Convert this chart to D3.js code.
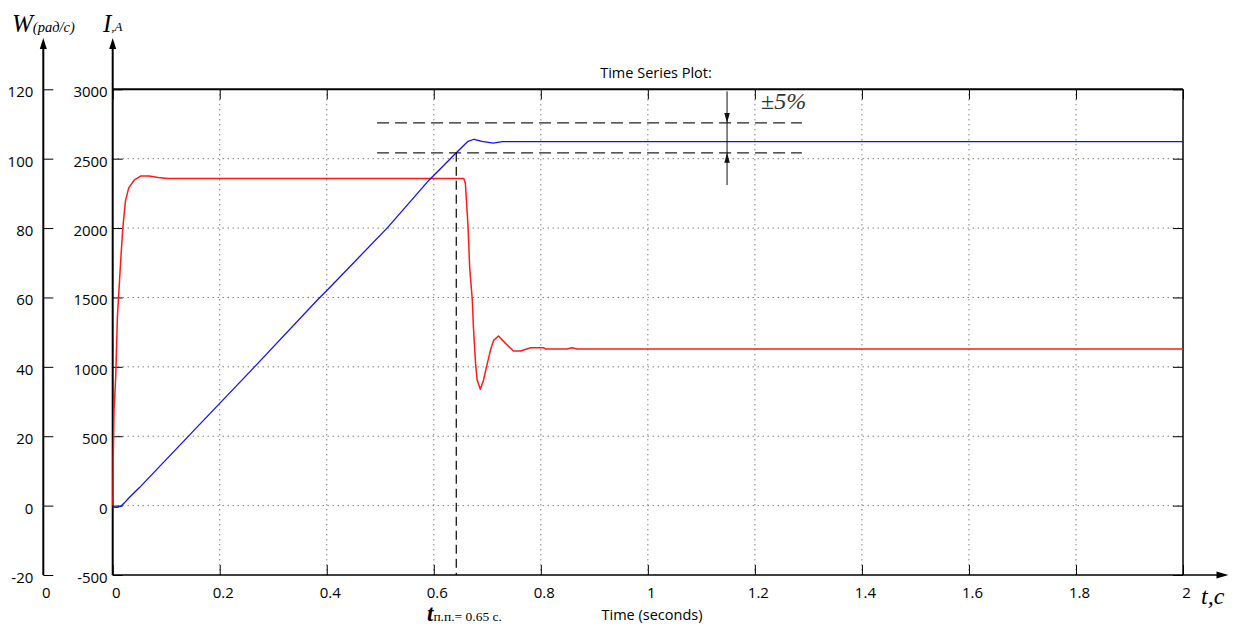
<!DOCTYPE html>
<html>
<head>
<meta charset="utf-8">
<script src="https://cdn.jsdelivr.net/npm/d3@7/dist/d3.min.js"></script>
<style>
  html, body { margin: 0; padding: 0; background: #fff; }
  svg { display: block; }
  .sans { font-family: "Open Sans", "Liberation Sans", sans-serif; }
  .serif { font-family: "Liberation Serif", "DejaVu Serif", serif; }
</style>
</head>
<body>
<svg id="chart" width="1233" height="628"></svg>
<script>
// ---------------- data ----------------
const chartTitle = "Time Series Plot:";
const xAxisTitle = "Time (seconds)";
const timeTicks = [0, 0.2, 0.4, 0.6, 0.8, 1, 1.2, 1.4, 1.6, 1.8, 2];
const currentTicks = [-500, 0, 500, 1000, 1500, 2000, 2500, 3000];
const speedTicks = [-20, 0, 20, 40, 60, 80, 100, 120];
const speedAxisOrigin = "0";

// speed W (rad/s) — blue
const speedT = [0, 0.008, 0.015, 0.022, 0.03, 0.05, 0.1643, 0.265, 0.382, 0.407, 0.514, 0.591, 0.642, 0.663, 0.675, 0.69, 0.711, 0.728, 2.0];
const speedV = [-0.4, -0.5, -0.2, 0.8, 2.2, 5.2, 23.7, 40.0, 59.2, 63.1, 80.2, 93.8, 101.7, 104.9, 105.6, 105.0, 104.5, 104.9, 104.9];

// current I (A) — red
const currentT = [0, 0.0005, 0.001, 0.0025, 0.0056, 0.0088, 0.015, 0.019, 0.024, 0.030, 0.040, 0.052, 0.068, 0.085, 0.102, 0.656, 0.659, 0.664, 0.667, 0.672, 0.674, 0.678, 0.681, 0.687, 0.693, 0.700, 0.706, 0.712, 0.721, 0.734, 0.749, 0.762, 0.781, 0.805, 0.809, 0.849, 0.858, 0.868, 2.0];
const currentV = [0, 0, 330, 690, 925, 1360, 1770, 2005, 2200, 2290, 2345, 2375, 2375, 2365, 2357, 2357, 2325, 2010, 1720, 1480, 1290, 1027, 905, 838, 905, 1025, 1121, 1193, 1222, 1169, 1114, 1114, 1138, 1138, 1128, 1128, 1138, 1128, 1128];

// annotations (in current-axis units / seconds)
const bandLevels = [2758, 2542];        // ±5% dashed lines
const bandStart = 0.494, bandEnd = 1.288;
const settlingTime = 0.642;
const arrowTime = 1.148;
const arrowSpan = [2985, 2310];
const toleranceLabel = "±5%";

// ---------------- layout ----------------
const svg = d3.select("#chart");
const pLeft = 112.7, pRight = 1183, pTop = 89.3, pBottom = 575;
const wAxisX = 43.3;

const x = d3.scaleLinear().domain([0, 2]).range([pLeft, pRight]);
const yI = d3.scaleLinear().domain([-500, 3000]).range([pBottom, pTop]);
const yW = d3.scaleLinear().domain([-20, 120]).range([pBottom, pTop]);
const plain = d => String(d);

svg.append("rect").attr("width", 1233).attr("height", 628).attr("fill", "#fff");

// grid
const grid = svg.append("g").attr("stroke", "#444").attr("stroke-width", 1).attr("stroke-dasharray", "1,4");
grid.selectAll("line.v").data(timeTicks.slice(1, -1)).join("line").attr("class", "v")
  .attr("x1", d => x(d)).attr("x2", d => x(d)).attr("y1", pTop).attr("y2", pBottom);
grid.selectAll("line.h").data(currentTicks.slice(1, -1)).join("line").attr("class", "h")
  .attr("x1", pLeft).attr("x2", pRight).attr("y1", d => yI(d)).attr("y2", d => yI(d));

// axes
function styleAxis(g) {
  g.select(".domain").remove();
  g.selectAll(".tick line").attr("stroke", "#000").attr("stroke-width", 1);
  g.selectAll(".tick text").attr("fill", "#000");
}
const axFont = g => g.attr("font-family", "'Open Sans', 'Liberation Sans', sans-serif").attr("font-size", 15);

svg.append("g").attr("transform", `translate(0,${pBottom})`)
  .call(d3.axisBottom(x).tickValues(timeTicks).tickFormat(plain).tickSize(-10).tickPadding(12))
  .call(styleAxis).call(axFont)
  .selectAll(".tick text").attr("dx", 3);

svg.append("g").attr("transform", `translate(0,${pTop})`)
  .call(d3.axisTop(x).tickValues(timeTicks).tickFormat("").tickSize(-10))
  .call(styleAxis);

svg.append("g").attr("transform", `translate(${pLeft},0)`)
  .call(d3.axisLeft(yI).tickValues(currentTicks).tickFormat(plain).tickSize(-10).tickPadding(5))
  .call(styleAxis).call(axFont)
  .selectAll(".tick text").attr("dy", "0.5em");

svg.append("g").attr("transform", `translate(${pRight},0)`)
  .call(d3.axisRight(yI).tickValues(currentTicks).tickFormat("").tickSize(-10))
  .call(styleAxis);

svg.append("g").attr("transform", `translate(${wAxisX},0)`)
  .call(d3.axisLeft(yW).tickValues(speedTicks).tickFormat(plain).tickSize(-10).tickPadding(10))
  .call(styleAxis).call(axFont)
  .selectAll(".tick text").attr("dy", "0.5em");

// frame lines
svg.append("line").attr("x1", pLeft).attr("x2", pRight).attr("y1", pTop).attr("y2", pTop)
  .attr("stroke", "#000").attr("stroke-width", 2);
svg.append("line").attr("x1", pRight).attr("x2", pRight).attr("y1", pTop).attr("y2", pBottom)
  .attr("stroke", "#000").attr("stroke-width", 1.5);

// axis lines with arrowheads
const axisArrowTip = 38;
function upArrow(cx, tipY, w, h) {
  return `M${cx},${tipY} L${cx - w / 2},${tipY + h} L${cx + w / 2},${tipY + h} Z`;
}
function downArrow(cx, tipY, w, h) {
  return `M${cx},${tipY} L${cx - w / 2},${tipY - h} L${cx + w / 2},${tipY - h} Z`;
}
svg.append("line").attr("x1", pLeft).attr("x2", pLeft).attr("y1", pBottom).attr("y2", axisArrowTip + 8)
  .attr("stroke", "#000").attr("stroke-width", 2);
svg.append("path").attr("d", upArrow(pLeft, axisArrowTip, 7, 11)).attr("fill", "#000");
svg.append("line").attr("x1", wAxisX).attr("x2", wAxisX).attr("y1", pBottom).attr("y2", axisArrowTip + 8)
  .attr("stroke", "#000").attr("stroke-width", 2);
svg.append("path").attr("d", upArrow(wAxisX, axisArrowTip, 7, 11)).attr("fill", "#000");
// bottom axis extended
svg.append("line").attr("x1", pLeft).attr("x2", 1219).attr("y1", pBottom).attr("y2", pBottom)
  .attr("stroke", "#000").attr("stroke-width", 1.5);
svg.append("path").attr("d", `M1228.5,${pBottom} L1216.5,${pBottom - 3.5} L1216.5,${pBottom + 3.5} Z`).attr("fill", "#000");

// W axis origin label
svg.append("text").attr("class", "sans").attr("x", wAxisX + 3).attr("y", 598)
  .attr("text-anchor", "middle").attr("font-size", 15).text(speedAxisOrigin);

// series
const lineI = d3.line().x((d, i) => x(currentT[i])).y(d => yI(d));
const lineW = d3.line().x((d, i) => x(speedT[i])).y(d => yW(d));
svg.append("path").attr("d", lineI(currentV)).attr("fill", "none")
  .attr("stroke", "#ff1a1a").attr("stroke-width", 1.5).attr("stroke-linejoin", "round");
svg.append("path").attr("d", lineW(speedV)).attr("fill", "none")
  .attr("stroke", "#1010ff").attr("stroke-width", 1.3).attr("stroke-linejoin", "round");

// annotations: ±5% band
const ann = svg.append("g");
ann.selectAll("line.band").data(bandLevels).join("line").attr("class", "band")
  .attr("x1", x(bandStart)).attr("x2", x(bandEnd))
  .attr("y1", d => yI(d)).attr("y2", d => yI(d))
  .attr("stroke", "#222").attr("stroke-width", 1.3).attr("stroke-dasharray", "12,6");
// settling time vertical
ann.append("line").attr("x1", x(settlingTime)).attr("x2", x(settlingTime))
  .attr("y1", yI(bandLevels[1])).attr("y2", pBottom)
  .attr("stroke", "#000").attr("stroke-width", 1.2).attr("stroke-dasharray", "9,5");
// double arrow
const ax = x(arrowTime);
ann.append("line").attr("x1", ax).attr("x2", ax).attr("y1", yI(arrowSpan[0])).attr("y2", yI(arrowSpan[1]))
  .attr("stroke", "#111").attr("stroke-width", 1);
ann.append("path").attr("d", downArrow(ax, yI(bandLevels[0]), 5.5, 10)).attr("fill", "#111");
ann.append("path").attr("d", upArrow(ax, yI(bandLevels[1]), 5.5, 10)).attr("fill", "#111");
const pct = ann.append("text").attr("class", "serif").attr("x", 761).attr("y", 108.5)
  .attr("font-size", 24).attr("fill", "#333");
pct.append("tspan").text(toleranceLabel.slice(0, 1));
pct.append("tspan").attr("font-style", "italic").text(toleranceLabel.slice(1));

// titles
svg.append("text").attr("class", "sans").attr("x", 656).attr("y", 77.5)
  .attr("text-anchor", "middle").attr("font-size", 14.5).text(chartTitle);
svg.append("text").attr("class", "sans").attr("x", 652).attr("y", 620)
  .attr("text-anchor", "middle").attr("font-size", 14.5).text(xAxisTitle);

// axis names
const wl = svg.append("text").attr("class", "serif").attr("x", 12).attr("y", 31.5).attr("font-style", "italic");
wl.append("tspan").attr("font-size", 25).text("W");
wl.append("tspan").attr("font-size", 14.5).text("(рад/с)");
const il = svg.append("text").attr("class", "serif").attr("x", 103).attr("y", 31.5).attr("font-style", "italic");
il.append("tspan").attr("font-size", 25).text("I");
il.append("tspan").attr("font-size", 13).attr("dy", -1).text(",A");
svg.append("text").attr("class", "serif").attr("x", 1201).attr("y", 603.5)
  .attr("font-style", "italic").attr("font-size", 24).text("t,c");

// settling-time label
const st = svg.append("text").attr("class", "serif").attr("x", 427).attr("y", 621);
st.append("tspan").attr("font-size", 23).attr("font-style", "italic").attr("font-weight", "bold").text("t");
st.append("tspan").attr("font-size", 13.5).text("п.п.= 0.65 с.");
</script>
</body>
</html>
